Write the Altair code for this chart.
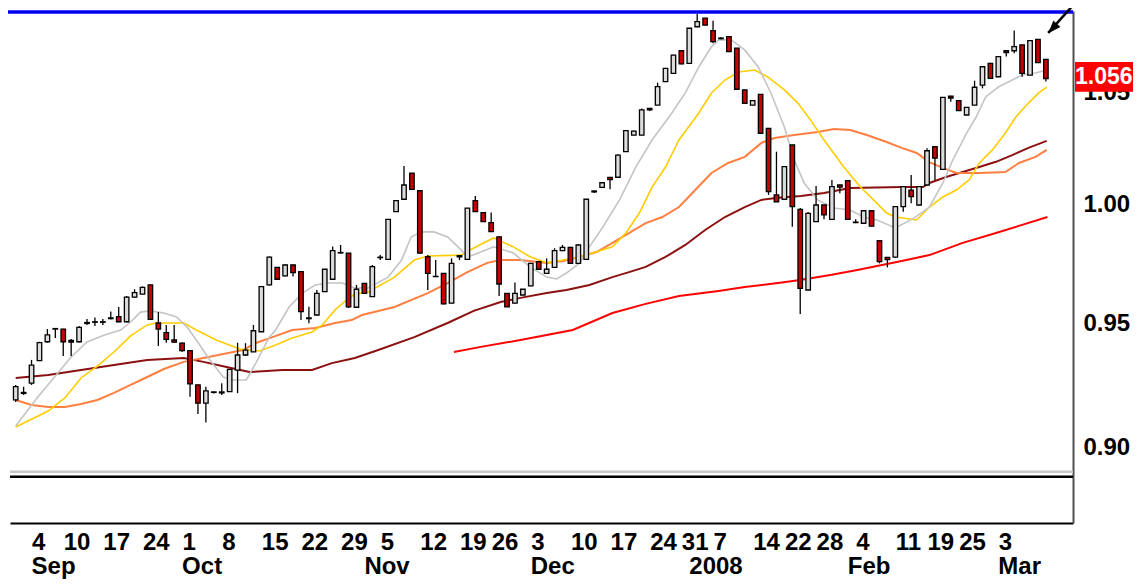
import altair as alt
import pandas as pd

# ---------------- data ----------------
open_ = [0.9189,0.9215,0.9256,0.9347,0.9424,0.9478,0.9476,0.9423,0.9424,0.9499,
         0.9504,0.9504,0.9519,0.9527,0.9506,0.9608,0.9621,0.9659,0.9501,0.9461,
         0.9431,0.9418,0.9388,0.9249,0.9176,0.9219,0.9217,0.9222,0.9309,0.9370,
         0.9383,0.9465,0.9659,0.9733,0.9697,0.9743,0.9715,0.9519,0.9534,0.9631,
         0.9683,0.9794,0.9793,0.9566,0.9666,0.9610,0.9776,0.9767,0.9971,1.0025,
         1.0139,1.0062,0.9778,0.9695,0.9708,0.9583,0.9783,0.9767,1.0019,0.9967,
         0.9924,0.9863,0.9624,0.9583,0.9617,0.9655,0.9757,0.9708,0.9733,0.9804,
         0.9818,0.9750,0.9767,1.0061,1.0077,1.0120,1.0121,1.0234,1.0308,1.0308,
         1.0428,1.0443,1.0550,1.0588,1.0692,1.0634,1.0804,1.0844,1.0786,1.0751,
         1.0758,1.0704,1.0512,1.0443,1.0492,1.0338,1.0044,1.0025,1.0264,0.9981,
         0.9638,0.9928,1.0000,0.9938,1.0087,1.0106,0.9924,0.9921,0.9975,0.9846,
         0.9775,0.9776,0.9993,1.0065,1.0000,1.0087,1.0256,1.0156,1.0484,1.0463,
         1.0398,1.0443,1.0534,1.0634,1.0572,1.0692,1.0692,1.0719,1.0580,1.0745,
         1.0652]
close = [0.9242,0.9219,0.9329,0.9420,0.9452,0.9476,0.9424,0.9429,0.9483,0.9503,
         0.9506,0.9506,0.9522,0.9506,0.9608,0.9627,0.9649,0.9516,0.9476,0.9434,
         0.9422,0.9388,0.9253,0.9176,0.9225,0.9221,0.9221,0.9312,0.9370,0.9390,
         0.9469,0.9652,0.9776,0.9683,0.9743,0.9711,0.9548,0.9522,0.9624,0.9725,
         0.9804,0.9796,0.9568,0.9641,0.9624,0.9736,0.9774,0.9938,1.0019,1.0087,
         1.0068,0.9793,0.9708,0.9694,0.9580,0.9750,0.9777,0.9986,0.9971,0.9928,
         0.9885,0.9663,0.9568,0.9624,0.9641,0.9750,0.9725,0.9725,0.9804,0.9818,
         0.9750,0.9828,1.0025,1.0057,1.0097,1.0111,1.0219,1.0328,1.0326,1.0421,
         1.0421,1.0527,1.0611,1.0672,1.0631,1.0797,1.0828,1.0812,1.0734,1.0748,
         1.0688,1.0515,1.0451,1.0463,1.0316,1.0058,1.0014,1.0168,0.9993,0.9645,
         0.9964,1.0000,0.9957,1.0080,1.0078,0.9938,0.9926,0.9975,0.9909,0.9757,
         0.9766,0.9993,1.0080,1.0036,1.0080,1.0238,1.0205,1.0478,1.0475,1.0418,
         1.0433,1.0524,1.0618,1.0565,1.0665,1.0684,1.0711,1.0588,1.0739,1.0637,
         1.0564]
high = [0.9249,0.9242,0.9350,0.9424,0.9476,0.9480,0.9477,0.9435,0.9489,0.9517,
        0.9524,0.9517,0.9548,0.9567,0.9613,0.9641,0.9653,0.9661,0.9546,0.9493,
        0.9493,0.9421,0.9390,0.9251,0.9242,0.9223,0.9256,0.9313,0.9420,0.9418,
        0.9493,0.9655,0.9779,0.9735,0.9745,0.9745,0.9718,0.9568,0.9638,0.9726,
        0.9821,0.9828,0.9794,0.9659,0.9667,0.9743,0.9785,0.9939,1.0020,1.0171,
        1.0140,1.0064,0.9785,0.9764,0.9709,0.9771,0.9785,0.9987,1.0039,0.9968,
        0.9967,0.9864,0.9625,0.9669,0.9642,0.9752,0.9759,0.9771,0.9814,0.9828,
        0.9820,0.9830,1.0026,1.0063,1.0099,1.0122,1.0222,1.0329,1.0328,1.0428,
        1.0430,1.0545,1.0612,1.0674,1.0694,1.0798,1.0864,1.0845,1.0832,1.0755,
        1.0760,1.0705,1.0513,1.0465,1.0493,1.0340,1.0234,1.0169,1.0265,0.9987,
        0.9970,1.0083,1.0001,1.0109,1.0088,1.0108,0.9938,0.9977,0.9977,0.9848,
        0.9776,0.9994,1.0081,1.0131,1.0081,1.0249,1.0258,1.0480,1.0485,1.0465,
        1.0434,1.0554,1.0620,1.0636,1.0666,1.0693,1.0786,1.0720,1.0740,1.0746,
        1.0654]
low = [0.9181,0.9209,0.9249,0.9346,0.9420,0.9439,0.9366,0.9366,0.9421,0.9493,
       0.9489,0.9493,0.9515,0.9504,0.9504,0.9605,0.9619,0.9513,0.9407,0.9420,
       0.9420,0.9382,0.9202,0.9133,0.9100,0.9215,0.9209,0.9221,0.9216,0.9366,
       0.9382,0.9464,0.9657,0.9680,0.9695,0.9694,0.9513,0.9500,0.9532,0.9630,
       0.9682,0.9792,0.9563,0.9563,0.9621,0.9609,0.9764,0.9766,0.9970,1.0024,
       1.0067,0.9792,0.9638,0.9693,0.9578,0.9582,0.9764,0.9766,0.9970,0.9926,
       0.9884,0.9613,0.9567,0.9582,0.9616,0.9654,0.9723,0.9707,0.9732,0.9802,
       0.9749,0.9749,0.9766,1.0052,1.0076,1.0068,1.0120,1.0233,1.0307,1.0307,
       1.0416,1.0442,1.0548,1.0587,1.0629,1.0633,1.0803,1.0811,1.0727,1.0746,
       1.0686,1.0513,1.0449,1.0442,1.0314,1.0044,1.0013,1.0023,0.9906,0.9538,
       0.9637,0.9926,0.9938,0.9937,1.0051,0.9937,0.9921,0.9919,0.9907,0.9750,
       0.9733,0.9774,0.9971,1.0007,0.9999,1.0086,1.0109,1.0154,1.0458,1.0416,
       1.0397,1.0442,1.0519,1.0563,1.0570,1.0665,1.0680,1.0572,1.0579,1.0635,
       1.0550]

# moving-average lines, read at sample positions (x = trading-day index)
gray_x = [0,2.8,4.9,7,9,11.2,13.25,14.5,15.75,17,18.7,20.3,21.6,22.8,24.5,26.2,27.4,29.1,30.3,32,
          32.8,34.5,36.2,37.8,39.5,41.2,42.8,44.5,47,48.7,49.9,51.2,52.8,54.5,56.2,57,58.7,60.3,62.8,64.9,
          67,68.25,69.5,71.2,72.4,74.1,76.2,78.25,80.3,82.8,84.5,86.2,87.8,88.7,90.3,92,93.7,95.3,97,98.25,
          99.5,101.2,103.25,105.3,107,108.7,111,113.4,115.3,117,118.25,120,121.2,122.4,124,125.75,127,128.7,130.1]
gray_v = [0.9086,0.9201,0.9281,0.9362,0.9423,0.9452,0.9472,0.9505,0.9546,0.9551,0.9542,0.9526,0.9485,0.9431,0.9350,0.9281,0.9269,0.9269,0.9337,0.9443,
          0.9472,0.9567,0.9625,0.9659,0.9667,0.9667,0.9646,0.9646,0.9692,0.9764,0.9862,0.9884,0.9884,0.9862,0.9807,0.9777,0.9798,0.9820,0.9794,0.9735,
          0.9692,0.9684,0.9709,0.9752,0.9820,0.9905,1.0022,1.0166,1.0286,1.0407,1.0498,1.0617,1.0710,1.0742,1.0742,1.0696,1.0617,1.0498,1.0344,1.0197,
          1.0096,1.0022,0.9987,0.9978,0.9948,0.9935,0.9901,0.9944,0.9991,1.0096,1.0197,1.0317,1.0389,1.0480,1.0525,1.0557,1.0580,1.0589,1.0603]
yellow_x = [0,4.1,6.2,8.25,10.3,12.4,14.5,16.6,17.8,21.2,22.8,25.3,28.25,30.75,32.8,34.9,37.4,38.7,40.3,41.6,
            42.8,44.5,47.8,50.3,52,56.2,57.8,60.3,62.8,64.9,67,69.1,71.2,72.8,75.3,77,78.7,80.3,82,83.7,
            86.2,87.8,89.5,91.2,93.25,94.9,97,98.7,100.3,102,104.5,106.6,108.25,109.9,111,113.7,115.3,117,118.7,120.3,
            121.6,123.25,124.9,126.2,127.8,129.1,130.1]
yellow_v = [0.9082,0.9145,0.9197,0.9277,0.9325,0.9382,0.9448,0.9493,0.9501,0.9501,0.9472,0.9431,0.9394,0.9386,0.9411,0.9439,0.9464,0.9493,0.9555,0.9592,
            0.9621,0.9630,0.9692,0.9764,0.9781,0.9785,0.9815,0.9858,0.9820,0.9778,0.9752,0.9764,0.9778,0.9794,0.9820,0.9879,0.9965,1.0078,1.0166,1.0286,
            1.0407,1.0498,1.0557,1.0594,1.0603,1.0571,1.0512,1.0452,1.0376,1.0286,1.0166,1.0078,1.0022,0.9965,0.9948,0.9935,0.9991,1.0035,1.0065,1.0109,
            1.0184,1.0242,1.0317,1.0389,1.0452,1.0498,1.0525]
orange_x = [0,2,4.1,6.2,8.25,10.3,12.4,14.5,16.6,18.7,21.2,23.7,26.2,28.7,30.3,32.4,34.9,37.8,40.3,42.4,
            43.7,47.8,52,54.5,57,59.5,61.2,63.7,67,69.1,71.2,73.3,75.3,77,79.5,81.6,83.7,85.75,87.8,89.9,
            92,94.1,95.75,98.25,101.2,103.25,105.3,107.4,109.9,111.8,113.7,115.3,117,118.7,121.6,124.9,126.6,128.7,130.1]
orange_v = [0.9189,0.9169,0.9161,0.9161,0.9173,0.9189,0.9217,0.9249,0.9281,0.9313,0.9342,0.9358,0.9374,0.9390,0.9419,0.9443,0.9472,0.9480,0.9501,0.9513,
            0.9534,0.9567,0.9625,0.9667,0.9713,0.9752,0.9764,0.9764,0.9752,0.9760,0.9778,0.9798,0.9837,0.9871,0.9922,0.9948,0.9991,1.0065,1.0140,1.0184,
            1.0211,1.0273,1.0295,1.0308,1.0322,1.0335,1.0331,1.0308,1.0277,1.0251,1.0228,1.0188,1.0162,1.0140,1.0140,1.0144,1.0184,1.0211,1.0242]
maroon_x = [0,4.1,8.25,12.4,16.6,21.2,23.7,26.6,29.5,33.7,37.4,39.9,42.8,45.75,50.3,54.5,57.8,61.2,63.7,67,
            69.5,72.4,75.3,77.4,79.5,82,84.5,87,89.5,92,94.1,96.2,99.1,102,105.3,111.8,114.5,115.3,117.4,119.5,
            121.6,123.7,125.75,127.8,130.1]
maroon_v = [0.9277,0.9289,0.9309,0.9329,0.9350,0.9358,0.9342,0.9321,0.9301,0.9309,0.9309,0.9337,0.9358,0.9390,0.9443,0.9501,0.9551,0.9588,0.9605,0.9625,
            0.9638,0.9659,0.9692,0.9713,0.9735,0.9777,0.9828,0.9892,0.9948,0.9991,1.0022,1.0031,1.0039,1.0052,1.0074,1.0078,1.0078,1.0096,1.0122,1.0144,
            1.0166,1.0189,1.0219,1.0251,1.0282]
red_x = [55.3,58.7,63.7,70.3,75.3,79.5,83.7,88.7,92,96.2,99,102.8,106.2,108.7,111.8,115.3,119.5,123.7,127,130.2]
red_v = [0.9382,0.9403,0.9431,0.9472,0.9542,0.9580,0.9613,0.9634,0.9650,0.9667,0.9680,0.9701,0.9722,0.9739,0.9760,0.9785,0.9837,0.9879,0.9914,0.9948]

# axis labels (trading-day index of each weekly tick)
tick_idx = [2,6,11,16,21,26,31,36,41,46,51,56,60,65,70,75,80,84,88,93,97,101,106,111,115,119,124]
tick_lbl = ["4","10","17","24","1","8","15","22","29","5","12","19","26","3","10","17","24","31","7",
            "14","22","28","4","11","19","25","3"]
month_idx = [2,21,44,65,85,105,124]
month_lbl = ["Sep","Oct","Nov","Dec","2008","Feb","Mar"]
y_ticks = [0.90, 0.95, 1.00, 1.05]

last_label = "1.056"
resistance = 1.0873
arrow_tip = (130.29, 1.0775)
arrow_tail = (134.6, 1.0954)
arrow_head = (130.85, 1.0796)

# ---------------- chart ----------------
FONT = "Liberation Sans"
X_DOMAIN = [-0.0875, 132.79]
Y_DOMAIN = [0.87113, 1.0878]
xs = alt.Scale(domain=X_DOMAIN, nice=False, zero=False)
ys = alt.Scale(type="log", domain=Y_DOMAIN, nice=False)

vals = ",".join(str(v) for v in tick_idx)
lbls = ",".join("'" + s + "'" for s in tick_lbl)
x_axis = alt.Axis(values=tick_idx, labelExpr=f"[{lbls}][indexof([{vals}], datum.value)]",
                  ticks=False, tickSize=0, grid=False, domainColor="black", domainWidth=2,
                  labelAlign="left", labelBaseline="top", labelPadding=7, labelFont=FONT,
                  labelFontWeight="bold", labelFontSize=24, labelColor="black",
                  labelOverlap=False, labelFlush=False, title=None, zindex=0)
y_axis = alt.Axis(orient="right", values=y_ticks, format=".2f", ticks=False, tickSize=0,
                  grid=False, domainColor="#505050", domainWidth=2, labelPadding=10,
                  labelFont=FONT, labelFontSize=24, labelFontWeight="bold", labelColor="black",
                  labelAlign="left", labelOverlap=False, labelFlush=False, title=None, zindex=0)

def X(f):
    return alt.X(f, type="quantitative", scale=xs, axis=x_axis)

def Y(f):
    return alt.Y(f, type="quantitative", scale=ys, axis=y_axis)

def YD(v):
    return alt.YDatum(v, type="quantitative", scale=ys, axis=y_axis)

def XD(v):
    return alt.XDatum(v, type="quantitative", scale=xs, axis=x_axis)

candles = pd.DataFrame({"idx": list(range(len(close))), "open": open_, "close": close,
                        "high": high, "low": low})
candles["fill"] = ["#DCDCDC" if c >= o else "#C80000" for o, c in zip(open_, close)]

sep_gray = alt.Chart().mark_rule(color="#C8C8C8", strokeWidth=2.5).encode(y=YD(0.89074))
sep_black = alt.Chart().mark_rule(color="black", strokeWidth=2.5).encode(y=YD(0.88881))
blue = alt.Chart().mark_rule(color="#0000F0", strokeWidth=3.5).encode(
    y=YD(resistance), x=alt.value(-2), x2=alt.value(1063))

def ma_line(xv, yv, color, w):
    df = pd.DataFrame({"x": xv, "v": yv})
    return alt.Chart(df).mark_line(color=color, strokeWidth=w, interpolate="linear").encode(
        x=X("x"), y=Y("v"))

lines = [
    ma_line(red_x, red_v, "#FF0000", 2),
    ma_line(maroon_x, maroon_v, "#8B1010", 2),
    ma_line(orange_x, orange_v, "#FF7F40", 2),
    ma_line(yellow_x, yellow_v, "#FFCC00", 1.6),
    ma_line(gray_x, gray_v, "#C4C4C4", 1.6),
]

base = alt.Chart(candles)
wicks = base.mark_rule(color="black", strokeWidth=1.3).encode(x=X("idx"), y=Y("low"), y2="high")
bodies = base.mark_bar(width=4.5, stroke="black", strokeWidth=1.3).encode(
    x=X("idx"), y=Y("open"), y2="close", fill=alt.Fill("fill:N", scale=None))

box = alt.Chart().mark_rect(color="#FF0000").encode(
    x=alt.value(1065), x2=alt.value(1140), y=YD(1.0640), y2=alt.Y2Datum(1.0503))
box_text = alt.Chart().mark_text(text=last_label, color="white", font=FONT, fontWeight="bold",
                                 fontSize=23, align="left", baseline="middle").encode(
    x=alt.value(1065), y=YD(1.0571))

arrow_line = alt.Chart().mark_rule(color="black", strokeWidth=2.5).encode(
    x=XD(arrow_tip[0]), x2=alt.X2Datum(arrow_tail[0]), y=YD(arrow_tip[1]), y2=alt.Y2Datum(arrow_tail[1]))
arrow_head_mk = alt.Chart().mark_point(shape="M0,-1L0.75,1L-0.75,1Z", filled=True, opacity=1,
                                       size=160, angle=222, color="black").encode(
    x=XD(arrow_head[0]), y=YD(arrow_head[1]))

months = alt.Chart(pd.DataFrame({"idx": month_idx, "lbl": month_lbl})).mark_text(
    font=FONT, fontWeight="bold", fontSize=24, align="left", baseline="alphabetic", color="black").encode(
    x=X("idx"), y=alt.value(563), text="lbl:N")

chart = alt.layer(
    sep_gray, sep_black, blue, *lines, wicks, bodies, box, box_text, arrow_line, arrow_head_mk, months
).properties(
    width=1063, height=512,
    padding={"left": 2, "top": 3, "right": 60, "bottom": 57},
    autosize=alt.AutoSizeParams(type="none"),
).configure_view(stroke="transparent")

chart.save("out.html", embed_options={"renderer": "svg", "actions": False})
